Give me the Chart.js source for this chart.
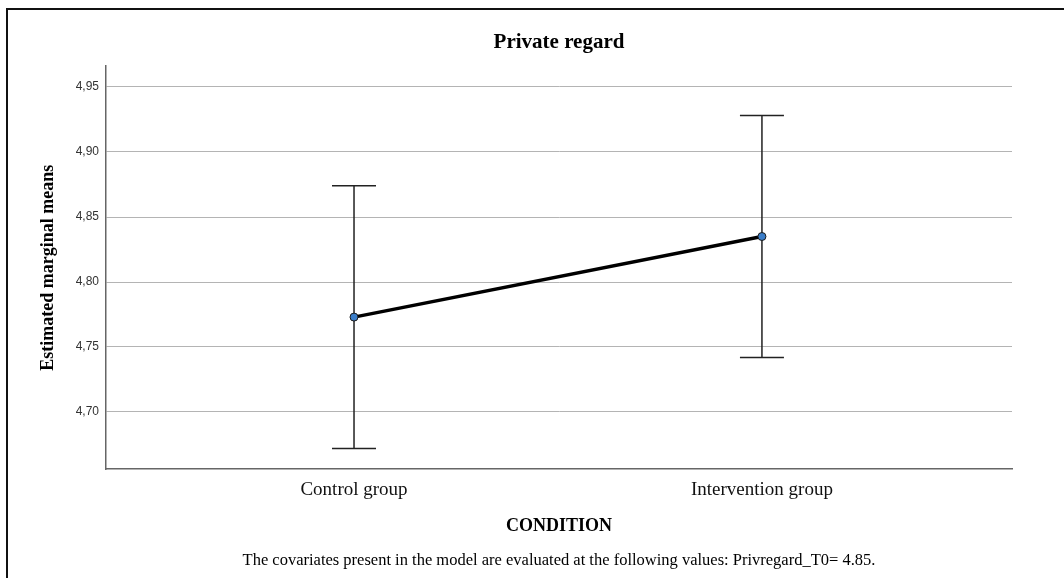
<!DOCTYPE html>
<html>
<head>
    <title>Private regard</title>
    <script src="https://cdn.jsdelivr.net/npm/chart.js"></script>
    <style>
        html, body { margin: 0; padding: 0; background: #fff; }
        .chart-container { width: 1064px; height: 578px; }
    </style>
</head>
<body>
    <div class="chart-container">
        <canvas id="meansChart" width="1064" height="578"></canvas>
    </div>
    <script>
        // values
        const categories = ['Control group', 'Intervention group'];
        const means = [4.773, 4.835];
        const lowerCI = [4.672, 4.742];
        const upperCI = [4.874, 4.928];
        const yTicks = [4.70, 4.75, 4.80, 4.85, 4.90, 4.95];

        const serif = "'Liberation Serif', 'Times New Roman', serif";

        // frame around the figure (cut off at the right and bottom like the original)
        const framePlugin = {
            id: 'frame',
            beforeDraw(chart) {
                const ctx = chart.ctx;
                ctx.save();
                ctx.fillStyle = '#fff';
                ctx.fillRect(0, 0, chart.width, chart.height);
                ctx.strokeStyle = '#111';
                ctx.lineWidth = 2;
                ctx.strokeRect(7, 9, chart.width + 20, chart.height + 20);
                ctx.restore();
            }
        };

        // 95% CI whiskers drawn through the chart scales
        const errorBarPlugin = {
            id: 'errorBars',
            beforeDatasetsDraw(chart) {
                const ctx = chart.ctx;
                const xs = chart.scales.x, ys = chart.scales.y;
                ctx.save();
                ctx.strokeStyle = '#222';
                ctx.lineWidth = 1.5;
                categories.forEach((c, i) => {
                    const x = xs.getPixelForValue(i);
                    const yLo = ys.getPixelForValue(lowerCI[i]);
                    const yHi = ys.getPixelForValue(upperCI[i]);
                    ctx.beginPath();
                    ctx.moveTo(x, yHi); ctx.lineTo(x, yLo);
                    ctx.moveTo(x - 22, yHi); ctx.lineTo(x + 22, yHi);
                    ctx.moveTo(x - 22, yLo); ctx.lineTo(x + 22, yLo);
                    ctx.stroke();
                });
                ctx.restore();
            }
        };

        const ctx = document.getElementById('meansChart').getContext('2d');
        new Chart(ctx, {
            type: 'line',
            data: {
                datasets: [{
                    data: means.map((m, i) => ({ x: i, y: m })),
                    borderColor: '#000',
                    borderWidth: 3.5,
                    pointRadius: 4,
                    pointBackgroundColor: '#3a7dc9',
                    pointBorderColor: '#1a1a1a',
                    pointBorderWidth: 1,
                    tension: 0
                }]
            },
            options: {
                responsive: false,
                animation: false,
                layout: { padding: { left: 0, right: 52, top: 0, bottom: 0 } },
                plugins: {
                    legend: { display: false },
                    tooltip: { enabled: false },
                    title: {
                        display: true,
                        fullSize: false,
                        text: 'Private regard',
                        color: '#000',
                        font: { family: serif, size: 21, weight: 'bold' },
                        padding: { top: 30, bottom: 11 }
                    },
                    subtitle: {
                        display: true,
                        fullSize: false,
                        position: 'bottom',
                        text: 'The covariates present in the model are evaluated at the following values: Privregard_T0= 4.85.',
                        color: '#000',
                        font: { family: serif, size: 16.5 },
                        padding: { top: 0, bottom: 7 }
                    }
                },
                scales: {
                    x: {
                        type: 'linear',
                        min: -0.608,
                        max: 1.613,
                        afterBuildTicks: s => { s.ticks = categories.map((c, i) => ({ value: i })); },
                        afterFit: s => { s.height = 82; },
                        grid: { display: false, drawTicks: false },
                        border: { display: true, color: '#666', width: 1.5 },
                        ticks: {
                            padding: 9,
                            color: '#111',
                            font: { family: serif, size: 19 },
                            callback: v => categories[v]
                        },
                        title: {
                            display: true,
                            text: 'CONDITION',
                            color: '#000',
                            font: { family: serif, size: 18, weight: 'bold' },
                            padding: { top: 0, bottom: 14 }
                        }
                    },
                    y: {
                        min: 4.656,
                        max: 4.966,
                        afterBuildTicks: s => { s.ticks = yTicks.map(v => ({ value: v })); },
                        afterFit: s => { s.width = 106; },
                        grid: { color: '#b4b4b4', lineWidth: 1, drawTicks: false },
                        border: { display: true, color: '#666', width: 1.5 },
                        ticks: {
                            padding: 7,
                            color: '#333',
                            font: { family: "'Liberation Sans', Arial, sans-serif", size: 12 },
                            callback: v => v.toFixed(2).replace('.', ',')
                        },
                        title: {
                            display: true,
                            text: 'Estimated marginal means',
                            color: '#000',
                            font: { family: serif, size: 18, weight: 'bold' },
                            padding: { top: 38, bottom: 0 }
                        }
                    }
                }
            },
            plugins: [framePlugin, errorBarPlugin]
        });
    </script>
</body>
</html>
